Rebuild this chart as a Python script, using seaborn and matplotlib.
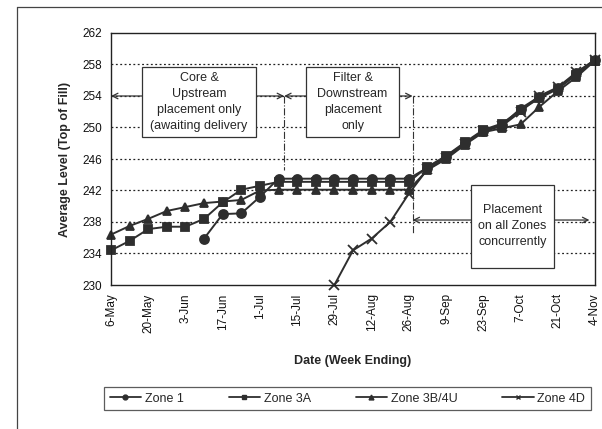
import numpy as np
import pandas as pd
import seaborn as sns
import matplotlib
matplotlib.use('Agg')
import matplotlib.pyplot as plt
import matplotlib.dates as mdates
from matplotlib.lines import Line2D
from matplotlib.patches import Rectangle

# weekly readings, 6-May .. 4-Nov (27 weeks)
week_start = '2001-05-06'
n_weeks = 27
nan = np.nan

zone_1 = [nan, nan, nan, nan, nan, 235.9, 239.0, 239.1, 241.2, 243.5,
          243.5, 243.5, 243.5, 243.5, 243.5, 243.5, 243.5,
          244.9, 246.3, 248.0, 249.6, 250.3, 252.4, 253.9, 255.0, 256.9, 258.6]
zone_3a = [234.4, 235.6, 237.1, 237.4, 237.4, 238.4, 240.5, 242.1, 242.6, 243.1,
           243.1, 243.1, 243.1, 243.1, 243.1, 243.1, 243.1,
           245.0, 246.4, 248.1, 249.7, 250.5, 252.2, 253.7, 254.9, 256.7, 258.5]
zone_3b4u = [236.4, 237.5, 238.4, 239.4, 239.9, 240.4, 240.6, 240.8, 242.0, 242.1,
             242.1, 242.1, 242.1, 242.1, 242.1, 242.1, 242.1,
             244.6, 246.0, 247.8, 249.4, 249.9, 250.4, 252.6, 254.6, 256.4, 258.5]
zone_4d = [nan, nan, nan, nan, nan, nan, nan, nan, nan, nan, nan, nan,
           230.0, 234.4, 235.9, 238.0, 241.6,
           244.7, 246.1, 247.9, 249.5, 250.2, 252.0, 254.0, 255.1, 257.0, 258.6]

zones = ['Zone 1', 'Zone 3A', 'Zone 3B/4U', 'Zone 4D']
y_ticks = list(range(230, 263, 4))

dates = pd.date_range(week_start, periods=n_weeks, freq='7D')
df = pd.DataFrame({'Date': dates, 'Zone 1': zone_1, 'Zone 3A': zone_3a,
                   'Zone 3B/4U': zone_3b4u, 'Zone 4D': zone_4d})
df = df.melt(id_vars='Date', var_name='Zone', value_name='Level').dropna()

sns.set_style('white')
plt.rcParams['font.family'] = ['Liberation Sans', 'DejaVu Sans']

ink = '#2e2e2e'
fig = plt.figure(figsize=(6.02, 4.29), dpi=100)
ax = fig.add_axes([111/602, 1-285/429, 484/602, 252/429])

markers = {'Zone 1': 'o', 'Zone 3A': 's', 'Zone 3B/4U': '^', 'Zone 4D': 'x'}
sizes = {'Zone 1': 6.5, 'Zone 3A': 6, 'Zone 3B/4U': 5.5, 'Zone 4D': 6.5}
for z in zones:
    sns.lineplot(data=df[df.Zone == z], x='Date', y='Level', ax=ax, color=ink,
                 marker=markers[z], markersize=sizes[z], markeredgecolor=ink,
                 markeredgewidth=1.3, linewidth=1.4, clip_on=False, legend=False)

ax.set_ylim(230, 262)
ax.set_xlim(dates[0], dates[-1])
ax.set_yticks(y_ticks)
ax.set_xticks(dates[::2])
ax.set_xticklabels([d.strftime('%-d-%b') for d in dates[::2]], rotation=90)
ax.tick_params(axis='y', direction='inout', length=6, width=0.9, labelsize=8.5, colors='#111')
ax.tick_params(axis='x', direction='out', length=4, width=0.9, labelsize=8.5, colors='#111', pad=2)
for y in y_ticks[1:-1]:
    ax.axhline(y, color='#222', linestyle=(0, (1.5, 2)), linewidth=0.9, zorder=0)
for s in ax.spines.values():
    s.set_color('#222')
    s.set_linewidth(1.0)

ax.set_xlabel('Date (Week Ending)', fontsize=9, fontweight='bold', labelpad=16)
ax.set_ylabel('Average Level (Top of Fill)', fontsize=9, fontweight='bold', labelpad=8)

# phase annotations
def wk(w):
    return mdates.date2num(dates[0] + pd.Timedelta(weeks=w))

arrow_kw = dict(arrowstyle='<->', color='#333', lw=0.9, shrinkA=0, shrinkB=0)
ax.annotate('', xy=(wk(0), 254), xytext=(wk(9.3), 254), arrowprops=arrow_kw, zorder=1)
ax.annotate('', xy=(wk(9.3), 254), xytext=(wk(16.2), 254), arrowprops=arrow_kw, zorder=1)
ax.annotate('', xy=(wk(16.2), 238.25), xytext=(wk(25.7), 238.25), arrowprops=arrow_kw, zorder=1)
ax.plot([wk(9.3), wk(9.3)], [254, 244.6], color='#333', lw=0.8, ls='-.', zorder=1)
ax.plot([wk(16.2), wk(16.2)], [254, 236.6], color='#333', lw=0.8, ls='-.', zorder=1)

def note(w0, w1, y0, y1, txt):
    ax.add_patch(Rectangle((wk(w0), y0), wk(w1) - wk(w0), y1 - y0, facecolor='white',
                           edgecolor='#333', linewidth=0.9, zorder=3))
    ax.text((wk(w0) + wk(w1)) / 2, (y0 + y1) / 2, txt, ha='center', va='center',
            fontsize=9, linespacing=1.45, zorder=4)

note(1.65, 7.8, 248.8, 257.7, 'Core &\nUpstream\nplacement only\n(awaiting delivery')
note(10.5, 15.45, 248.8, 257.7, 'Filter &\nDownstream\nplacement\nonly')
note(19.35, 23.8, 232.2, 242.7, 'Placement\non all Zones\nconcurrently')

handles = [Line2D([], [], color=ink, lw=1.3, marker=markers[z], markersize=3.5,
                  markeredgewidth=1.0) for z in zones]
leg = fig.legend(handles, zones, loc='center', bbox_to_anchor=(347.5/602, 1-398.5/429),
                 ncol=4, fontsize=9, frameon=True, fancybox=False, edgecolor='#333',
                 handlelength=2.5, columnspacing=3.6, handletextpad=0.3, borderpad=0.45,
                 borderaxespad=0.0)
leg.get_frame().set_linewidth(0.9)

# outer chart border
fig.add_artist(Line2D([17/602, 1.0], [1-7/429, 1-7/429], color='#444', lw=0.9))
fig.add_artist(Line2D([17/602, 17/602], [0.0, 1-7/429], color='#444', lw=0.9))

fig.savefig('out.png', dpi=100, facecolor='white')
